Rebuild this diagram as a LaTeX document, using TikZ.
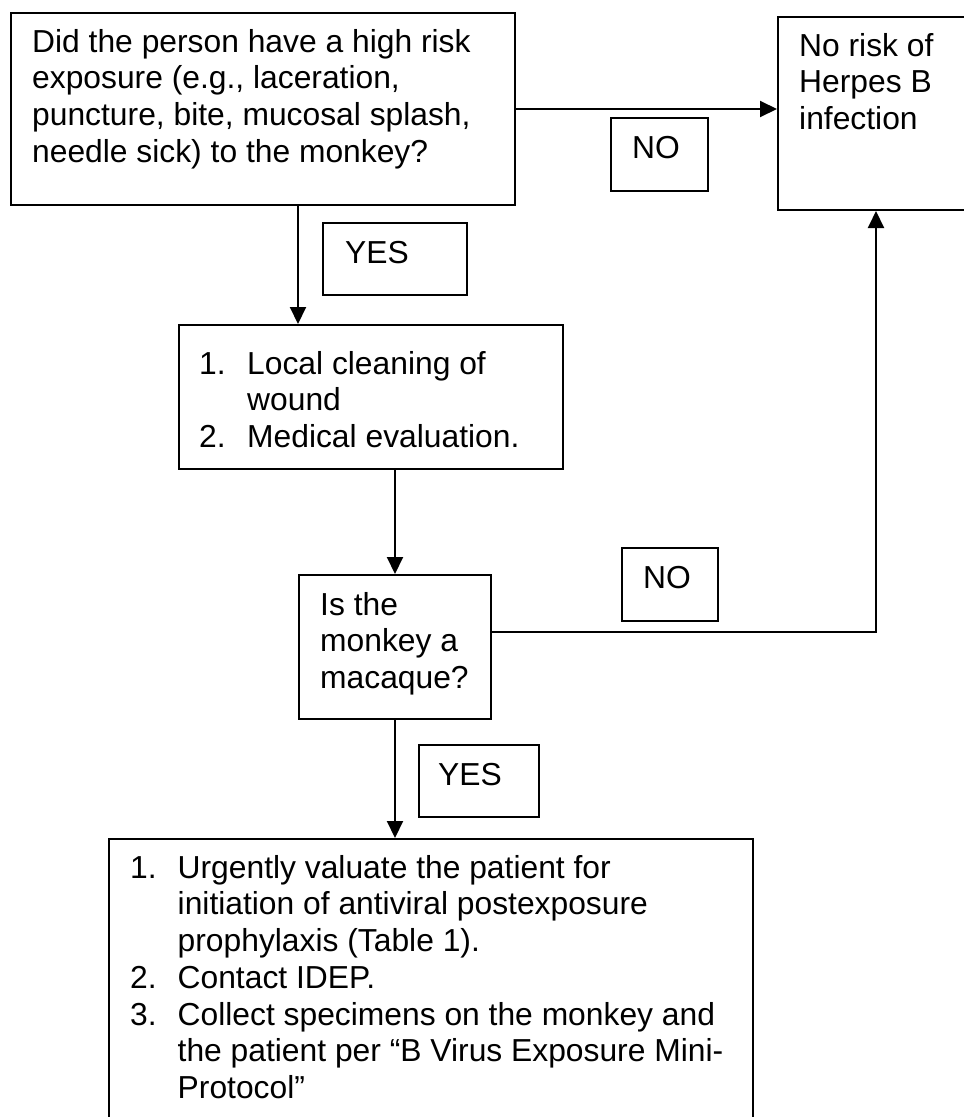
\documentclass[tikz,border=0pt]{standalone}
\usepackage{fontspec}
\setmainfont{Liberation Sans}
\usetikzlibrary{arrows.meta}
\newcommand\firstln{\rule{0pt}{25pt}}
\begin{document}
\begin{tikzpicture}[x=1pt,y=-1pt,
  box/.style={draw=black, line width=2pt, inner sep=0pt, anchor=north west},
  txt/.style={inner sep=0pt, anchor=north west, align=left, font=\fontsize{31.8}{36.7}\selectfont},
  lbl/.style={inner sep=0pt, anchor=base west, font=\fontsize{31.8}{36.7}\selectfont},
  conn/.style={line width=2pt, -{Triangle[length=17pt,width=16pt]}}]
\useasboundingbox (0,0) rectangle (964,1117);

% boxes
\node[box, minimum width=504.5pt, minimum height=192pt] (q1) at (9.5,12) {};
\node[box, minimum width=215pt, minimum height=193pt] (nr) at (777,16) {};
\node[box, minimum width=384pt, minimum height=144pt] (q2) at (178,324) {};
\node[box, minimum width=192pt, minimum height=144pt] (q3) at (298,574) {};
\node[box, minimum width=644pt, minimum height=310pt] (act) at (108,838) {};
\node[box, minimum width=97pt, minimum height=73pt] (no1) at (610,117) {};
\node[box, minimum width=144pt, minimum height=72pt] (yes1) at (322,222) {};
\node[box, minimum width=96pt, minimum height=73pt] (no2) at (621,547) {};
\node[box, minimum width=120pt, minimum height=72pt] (yes2) at (418,744) {};

% texts
\node[txt] (tq1) at (32,27) {\firstln Did the person have a high risk\\exposure (e.g., laceration,\\puncture, bite, mucosal splash,\\needle sick) to the monkey?};
\node[txt] (tnr) at (799,31) {\firstln No risk of\\Herpes B\\infection};
\node[txt] (tq2) at (199,349) {\firstln\makebox[48pt][l]{1.}Local cleaning of\\\hspace*{48pt}wound\\\makebox[48pt][l]{2.}Medical evaluation.};
\node[txt] (tq3) at (320,590) {\firstln Is the\\monkey a\\macaque?};
\node[txt] (tact) at (130,853) {\firstln\makebox[47.5pt][l]{1.}Urgently valuate the patient for\\\hspace*{47.5pt}initiation of antiviral postexposure\\\hspace*{47.5pt}prophylaxis (Table 1).\\\makebox[47.5pt][l]{2.}Contact IDEP.\\\makebox[47.5pt][l]{3.}Collect specimens on the monkey and\\\hspace*{47.5pt}the patient per “B Virus Exposure Mini-\\\hspace*{47.5pt}Protocol”};
\node[lbl] (tno1) at (632,158) {NO};
\node[lbl] (tyes1) at (345,263) {YES};
\node[lbl] (tno2) at (643,588) {NO};
\node[lbl] (tyes2) at (438,785) {YES};

% connectors
\coordinate (x1) at (298,0);
\coordinate (k) at (876,632);
\draw[conn] (q1.east) -- (q1.east -| nr.west);
\draw[conn] (q1.south -| x1) -- (q2.north -| x1);
\draw[conn] (q2.south -| q3.north) -- (q3.north);
\draw[conn] (q3.east |- k) -- (k) -- (nr.south -| k);
\draw[conn] (q3.south) -- (act.north -| q3.south);
\end{tikzpicture}
\end{document}
